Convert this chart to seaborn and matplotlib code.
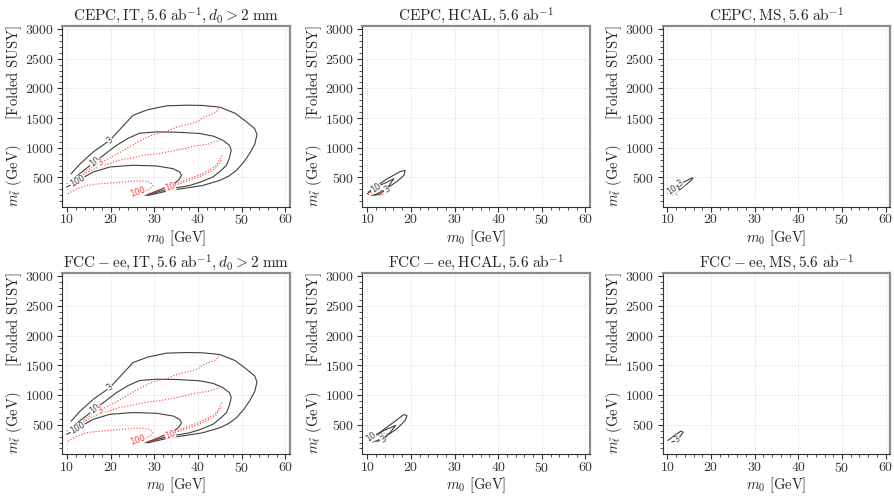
import numpy as np
import pandas as pd
import matplotlib
matplotlib.use("Agg")
import matplotlib.pyplot as plt
import seaborn as sns

# ---- contour lines (x = m0 [GeV], y = m_stop [GeV]) ----
# IT panels (CEPC and FCC-ee look the same)
it_b3_x = [10.9, 13.0, 16.0, 19.8, 22.5, 25.1, 28.5, 32.8, 37.3, 41.0, 45.0, 48.5, 51.1, 53.0, 53.5,
           53.0, 51.8, 50.5, 48.8, 47.0, 45.0, 41.1, 37.3, 33.5, 30.5, 28.5]
it_b3_y = [560, 730, 930, 1125, 1340, 1547, 1640, 1706, 1716, 1712, 1683, 1580, 1436, 1320, 1220,
           1060, 900, 760, 618, 520, 450, 365, 321, 280, 230, 195]
it_b10_x = [11.0, 13.5, 16.3, 18.8, 21.3, 24.0, 26.6, 30.5, 35.0, 40.4, 43.5, 45.7, 47.2, 47.6,
            47.2, 46.5, 45.0, 43.4, 40.5, 38.1, 35.8, 33.5, 30.5, 28.0]
it_b10_y = [450, 600, 760, 900, 1040, 1160, 1245, 1267, 1262, 1240, 1195, 1125, 1040, 960,
            830, 703, 600, 507, 420, 365, 335, 309, 250, 196]
it_b100_x = [9.9, 12.2, 14.0, 16.0, 19.8, 25.1, 30.5, 34.3, 35.8, 36.2, 35.7, 35.0, 33.5, 31.5, 29.5, 28.2]
it_b100_y = [338, 422, 510, 591, 676, 705, 693, 647, 590, 534, 470, 422, 365, 300, 240, 205]
it_r3_x = [9.9, 12.5, 15.0, 17.6, 20.5, 22.0, 23.6, 26.5, 29.0, 30.5, 33.0, 34.5, 35.8, 38.1,
           40.0, 41.1, 43.0, 44.2, 45.0]
it_r3_y = [394, 520, 640, 743, 860, 915, 985, 1110, 1200, 1238, 1280, 1330, 1362, 1400,
           1440, 1510, 1560, 1600, 1689]
it_r3b_x = [45.5, 44.2, 42.5, 40.4, 38.0, 35.5, 33.5, 31.5, 29.5, 27.8]
it_r3b_y = [870, 700, 620, 545, 480, 410, 355, 300, 245, 200]
it_r10_x = [11.5, 13.5, 16.0, 19.0, 22.0, 25.0, 28.0, 31.0, 34.0, 37.0, 38.5, 40.4, 42.5, 43.5, 45.0]
it_r10_y = [430, 540, 640, 720, 790, 830, 880, 900, 945, 985, 1020, 1040, 1065, 1095, 1125]
it_r10b_x = [45.3, 44.0, 42.0, 40.0, 37.5, 35.2, 33.5, 31.5, 29.5, 27.5]
it_r10b_y = [790, 650, 570, 500, 440, 380, 335, 285, 235, 195]
it_r100_x = [10.2, 12.0, 14.4, 17.0, 19.8, 22.5, 25.1, 27.5, 28.9, 29.7, 29.0, 27.4, 26.0, 24.7]
it_r100_y = [225, 300, 365, 390, 405, 420, 439, 440, 425, 365, 310, 264, 230, 196]

# CEPC HCAL
cepc_hcal_b3_x = [10.0, 12.3, 14.6, 17.6, 18.7, 18.4, 16.8, 14.6, 12.3, 11.0]
cepc_hcal_b3_y = [225, 365, 478, 601, 618, 534, 432, 321, 225, 196]
cepc_hcal_b10_x = [10.3, 12.0, 14.6, 16.1, 15.0, 13.1, 11.6]
cepc_hcal_b10_y = [253, 340, 422, 478, 365, 225, 196]
cepc_hcal_r_x = [10.2, 11.0, 12.0, 13.0, 13.6, 13.2, 13.6, 12.8]
cepc_hcal_r_y = [210, 250, 275, 290, 270, 240, 215, 195]

# CEPC MS
cepc_ms_b3_x = [10.1, 11.2, 12.5, 14.0, 15.3, 15.9, 15.5, 14.5, 13.3, 12.1, 11.0]
cepc_ms_b3_y = [235, 300, 370, 430, 480, 495, 455, 390, 320, 253, 200]
cepc_ms_b10_x = [10.2, 11.0, 12.0, 13.0, 12.5, 11.5, 10.8]
cepc_ms_b10_y = [240, 290, 340, 370, 300, 240, 200]
cepc_ms_r_x = [11.0, 11.5, 12.0, 12.4]
cepc_ms_r_y = [200, 235, 225, 200]

# FCC-ee HCAL
fcc_hcal_b3_x = [10.0, 13.0, 16.1, 18.4, 19.1, 18.7, 16.8, 14.2, 12.0, 11.0]
fcc_hcal_b3_y = [235, 376, 545, 672, 655, 571, 432, 303, 225, 210]
fcc_hcal_b10_x = [10.7, 13.8, 16.5, 15.3, 13.8, 12.3]
fcc_hcal_b10_y = [260, 403, 487, 376, 263, 218]
fcc_hcal_r_x = [10.3, 11.0, 12.0, 13.5, 14.8, 14.2, 13.0, 11.5, 10.5]
fcc_hcal_r_y = [210, 250, 300, 360, 340, 280, 240, 215, 205]

# FCC-ee MS
fcc_ms_b3_x = [10.1, 11.6, 13.1, 13.6, 13.1, 12.2, 11.0]
fcc_ms_b3_y = [235, 320, 393, 376, 320, 235, 210]

titles = [r'$\mathrm{CEPC, IT}, 5.6\ \mathrm{ab}^{-1}, d_0 > 2\ \mathrm{mm}$',
          r'$\mathrm{CEPC, HCAL}, 5.6\ \mathrm{ab}^{-1}$',
          r'$\mathrm{CEPC, MS}, 5.6\ \mathrm{ab}^{-1}$',
          r'$\mathrm{FCC-ee, IT}, 5.6\ \mathrm{ab}^{-1}, d_0 > 2\ \mathrm{mm}$',
          r'$\mathrm{FCC-ee, HCAL}, 5.6\ \mathrm{ab}^{-1}$',
          r'$\mathrm{FCC-ee, MS}, 5.6\ \mathrm{ab}^{-1}$']

BLACK = '0.25'
RED = '#ff3b3b'

it_curves = [(it_b3_x, it_b3_y, BLACK), (it_b10_x, it_b10_y, BLACK), (it_b100_x, it_b100_y, BLACK),
             (it_r3_x, it_r3_y, RED), (it_r3b_x, it_r3b_y, RED), (it_r10_x, it_r10_y, RED),
             (it_r10b_x, it_r10b_y, RED), (it_r100_x, it_r100_y, RED)]
# (x, y, text, rotation, colour)
it_labels = [(19.8, 1125, '3', 40, BLACK), (16.3, 760, '10', 37, BLACK), (12.4, 440, '100', 30, BLACK),
             (17.6, 743, '3', 30, RED), (26.2, 245, '100', 19, RED), (33.6, 335, '10', 19, RED)]

panels = [
    (it_curves, it_labels),
    ([(cepc_hcal_b3_x, cepc_hcal_b3_y, BLACK), (cepc_hcal_b10_x, cepc_hcal_b10_y, BLACK),
      (cepc_hcal_r_x, cepc_hcal_r_y, RED)],
     [(11.9, 330, '10', 35, BLACK), (14.5, 290, '3', 35, BLACK)]),
    ([(cepc_ms_b3_x, cepc_ms_b3_y, BLACK), (cepc_ms_b10_x, cepc_ms_b10_y, BLACK),
      (cepc_ms_r_x, cepc_ms_r_y, RED)],
     [(12.9, 405, '3', 35, BLACK), (11.1, 290, '10', 35, BLACK)]),
    (it_curves, it_labels),
    ([(fcc_hcal_b3_x, fcc_hcal_b3_y, BLACK), (fcc_hcal_b10_x, fcc_hcal_b10_y, BLACK),
      (fcc_hcal_r_x, fcc_hcal_r_y, RED)],
     [(10.9, 290, '10', 35, BLACK), (13.6, 245, '3', 30, BLACK)]),
    ([(fcc_ms_b3_x, fcc_ms_b3_y, BLACK)],
     [(12.3, 250, '3', 35, BLACK)]),
]

sns.set_style("ticks", {"axes.grid": True})
plt.rcParams.update({
    'font.family': 'serif',
    'font.serif': ['cmr10'],
    'mathtext.fontset': 'cm',
    'axes.formatter.use_mathtext': True,
    'axes.unicode_minus': False,
    'grid.color': '0.85',
    'grid.linestyle': ':',
    'grid.linewidth': 0.7,
    'xtick.direction': 'out',
    'ytick.direction': 'out',
    'xtick.major.size': 3.5,
    'ytick.major.size': 3.5,
    'xtick.minor.size': 2,
    'ytick.minor.size': 2,
    'xtick.major.pad': 1.5,
    'ytick.major.pad': 2.5,
    'xtick.color': '0.2',
    'ytick.color': '0.2',
})

fig, axes = plt.subplots(2, 3, figsize=(8.94, 4.96), dpi=100)
fig.subplots_adjust(left=0.0697, right=0.9955, top=0.9476, bottom=0.085, wspace=0.32, hspace=0.37)

for ax, (curves, labels), title in zip(axes.flat, panels, titles):
    for xs, ys, col in curves:
        df = pd.DataFrame({'m0': xs, 'mstop': ys})
        ls = ':' if col == RED else '-'
        sns.lineplot(data=df, x='m0', y='mstop', sort=False, estimator=None, color=col,
                     linestyle=ls, lw=0.8, ax=ax)
    for x, y, s, rot, col in labels:
        ax.text(x, y, s, rotation=rot, rotation_mode='anchor', ha='center', va='center',
                fontsize=6, color=col, family='DejaVu Sans',
                bbox=dict(facecolor='white', edgecolor='none', pad=0.1))
    ax.set_xlim(8.9, 61)
    ax.set_ylim(10, 3050)
    ax.set_xticks([10, 20, 30, 40, 50, 60])
    ax.set_yticks([500, 1000, 1500, 2000, 2500, 3000])
    ax.minorticks_on()
    ax.grid(True, which='major')
    ax.tick_params(labelsize=10)
    ax.set_title(title, fontsize=11, pad=4)
    ax.set_xlabel(r'$m_0\ [\mathrm{GeV}]$', fontsize=10.5)
    ax.set_ylabel(r'$m_{\tilde{t}}\ \mathrm{(GeV)}\qquad[\mathrm{Folded\ SUSY}]$', fontsize=10.5)
    ax.xaxis.set_label_coords(0.5, -0.12)
    ax.yaxis.set_label_coords(-0.17, 0.5)
    for side in ['left', 'bottom']:
        ax.spines[side].set_color('0.2')
        ax.spines[side].set_linewidth(0.8)
    for side in ['top', 'right']:
        ax.spines[side].set_color('0.55')
        ax.spines[side].set_linewidth(1.6)

fig.savefig('out.png', dpi=100)
